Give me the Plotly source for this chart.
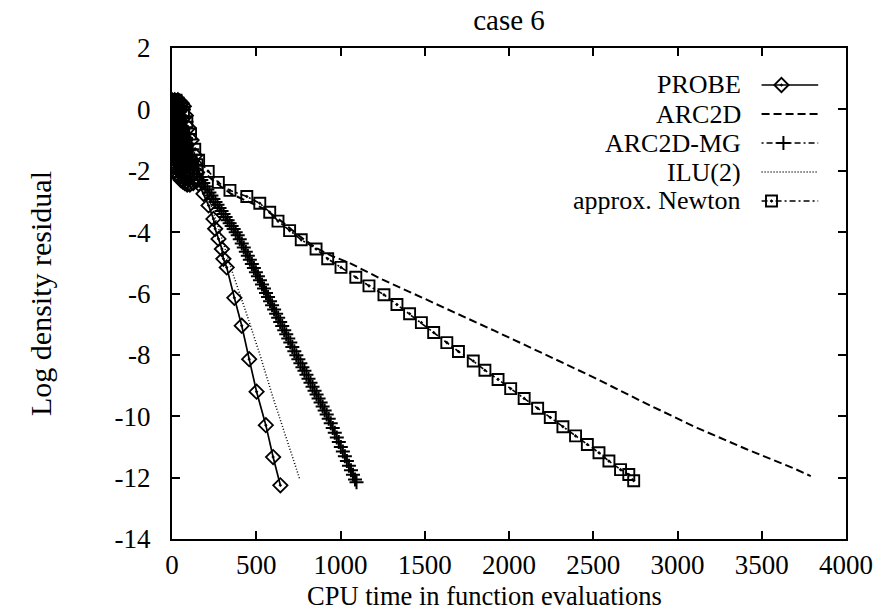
import plotly.graph_objects as go

# ---------------- data ----------------
probe_x = [0, 4, 8, 12, 16, 20, 25, 30, 35, 40, 46, 52, 58, 64, 70, 76, 82, 90, 98, 106, 116, 126, 138, 150,
           158, 187, 217, 246, 256, 276, 296, 305, 325, 370, 414, 458, 502, 557, 600, 643]
probe_y = [0.30, -1.80, 0.25, -2.00, 0.30, -2.10, 0.20, -2.15, 0.30, -2.20, 0.25, -2.30, 0.20, -2.35, 0.10, -2.40,
           -0.20, -2.45, -0.60, -2.45, -1.00, -2.40, -1.50, -2.30,
           -2.42, -2.75, -3.13, -3.57, -3.89, -4.22, -4.55, -4.87, -5.15, -6.14, -7.05, -8.14, -9.20, -10.29, -11.33, -12.25]

arc2d_x = [0, 7, 14, 21, 28, 35, 42, 50, 58, 66, 75, 85, 95, 105, 118, 130, 145, 160,
           250, 350, 450, 550, 650, 750, 850, 950, 1052, 1250, 1503, 1700, 1916, 2200, 2505, 2800, 3116, 3400, 3683, 3791]
arc2d_y = [0.30, -1.00, 0.25, -1.40, 0.20, -1.60, 0.25, -1.80, 0.10, -1.90, -0.10, -2.00, -0.50, -2.00, -0.90, -1.90, -1.50, -1.90,
           -2.35, -2.75, -3.00, -3.25, -3.65, -4.10, -4.50, -4.78, -5.00, -5.55, -6.18, -6.67, -7.22, -7.95, -8.74, -9.55, -10.38, -11.05, -11.68, -11.95]

mg_x = [0, 5, 10, 15, 20, 26, 32, 38, 44, 50, 57, 64, 71, 78, 86, 94, 102, 110, 120, 130, 140,
        150, 162, 174, 186, 198, 210, 222, 234, 246, 258, 270, 282, 294, 306, 318, 330, 342, 354, 366, 378, 390,
        402, 414, 426, 438, 450, 462, 474, 486, 498, 510, 522, 534, 546, 558,
        570, 582, 594, 606, 618, 630, 642, 654, 666, 678, 690, 702, 714, 726, 738,
        750, 762, 774, 786, 798, 810, 822, 834, 846, 858, 870, 882, 894, 906, 918,
        930, 942, 954, 966, 978, 990, 1002, 1014, 1026, 1038, 1050, 1062, 1074, 1086, 1095]
mg_y = [0.25, -1.50, 0.20, -1.90, 0.30, -2.00, 0.15, -2.10, 0.20, -2.20, 0.10, -2.30, 0.00, -2.35, -0.40, -2.40, -0.80, -2.30, -1.30, -2.20, -1.80,
        -2.10, -2.20, -2.30, -2.40, -2.51, -2.61, -2.71, -2.81, -2.92, -3.02, -3.11, -3.21, -3.31, -3.41, -3.51, -3.61, -3.71, -3.80, -3.90, -4.00, -4.10,
        -4.23, -4.37, -4.50, -4.64, -4.77, -4.90, -5.04, -5.17, -5.31, -5.44, -5.57, -5.71, -5.84, -5.98,
        -6.11, -6.25, -6.38, -6.52, -6.66, -6.79, -6.93, -7.06, -7.20, -7.33, -7.47, -7.60, -7.74, -7.88, -8.01,
        -8.14, -8.27, -8.40, -8.52, -8.65, -8.78, -8.91, -9.04, -9.17, -9.29, -9.42, -9.55, -9.68, -9.81, -9.94,
        -10.08, -10.23, -10.38, -10.54, -10.69, -10.84, -11.00, -11.15, -11.30, -11.46, -11.61, -11.76, -11.91, -12.06, -12.15]

ilu_x = [0, 8, 16, 24, 32, 40, 50, 60, 70, 80, 92, 104, 118, 130, 180, 230, 290, 355, 443, 521, 600, 679, 757]
ilu_y = [0.20, -1.30, 0.10, -1.70, 0.20, -2.00, 0.00, -2.10, -0.30, -2.20, -0.80, -2.20, -1.40, -1.90,
         -2.40, -3.10, -4.10, -5.25, -6.67, -7.98, -9.40, -10.70, -12.03]

newton_x = [0, 6, 12, 18, 24, 30, 37, 44, 52, 60, 68, 78, 88, 98, 110, 122, 135, 148,
            158, 215, 275, 344, 444, 521, 580, 629, 698, 767, 855, 924, 1003, 1091, 1169, 1258, 1335, 1410, 1480,
            1553, 1631, 1700, 1788, 1857, 1935, 2010, 2090, 2170, 2245, 2320, 2395, 2465, 2534, 2593, 2662, 2711, 2740]
newton_y = [0.30, -0.80, 0.20, -1.20, 0.30, -1.50, 0.20, -1.70, 0.10, -1.90, -0.10, -2.00, -0.40, -2.00, -0.80, -1.90, -1.30, -1.80,
            -1.66, -2.02, -2.38, -2.64, -2.84, -3.06, -3.35, -3.64, -3.95, -4.25, -4.55, -4.87, -5.15, -5.47, -5.75, -6.04, -6.36, -6.66, -6.95,
            -7.27, -7.60, -7.89, -8.20, -8.50, -8.80, -9.10, -9.42, -9.74, -10.04, -10.34, -10.64, -10.92, -11.19, -11.46, -11.74, -11.90, -12.10]

x_ticks = [0, 500, 1000, 1500, 2000, 2500, 3000, 3500, 4000]
x_ticktext = ["0", "500", "1000", "1500", "2000", "2500", "3000", "3500", "4000"]
y_ticks = [2, 0, -2, -4, -6, -8, -10, -12, -14]
y_ticktext = ["2", "0", "-2", "-4", "-6", "-8", "-10", "-12", "-14"]

legend_names = ["PROBE", "ARC2D", "ARC2D-MG", "ILU(2)", "approx. Newton"]

# ---------------- styles ----------------
FONT = "Liberation Serif"
FS_TICK = 27
FS_LEG = 26
FS_XTITLE = 26.5
FS_YTITLE = 30
styles = {
    "PROBE": dict(line=dict(color="black", width=1.7),
                  marker=dict(symbol="diamond-open-dot", size=11, color="black", line=dict(width=1.8, color="black")),
                  mode="lines+markers"),
    "ARC2D": dict(line=dict(color="black", width=2, dash="8px,4px"), mode="lines"),
    "ARC2D-MG": dict(line=dict(color="black", width=1.5, dash="2px,3px,6px,3px"),
                     marker=dict(symbol="cross-thin-open", size=10, color="black", line=dict(width=2, color="black")),
                     mode="lines+markers"),
    "ILU(2)": dict(line=dict(color="black", width=1.5, dash="1px,2px"), mode="lines"),
    "approx. Newton": dict(line=dict(color="black", width=1.6, dash="6px,3px,2px,3px"),
                           marker=dict(symbol="square-open-dot", size=11, color="black", line=dict(width=1.9, color="black")),
                           mode="lines+markers"),
}
series = {
    "PROBE": (probe_x, probe_y),
    "ARC2D": (arc2d_x, arc2d_y),
    "ARC2D-MG": (mg_x, mg_y),
    "ILU(2)": (ilu_x, ilu_y),
    "approx. Newton": (newton_x, newton_y),
}

fig = go.Figure()
for name in ["ARC2D", "ILU(2)", "approx. Newton", "ARC2D-MG", "PROBE"]:
    xs, ys = series[name]
    st = styles[name]
    kw = dict(x=xs, y=ys, name=name, mode=st["mode"], line=st["line"], showlegend=False)
    if "marker" in st:
        kw["marker"] = st["marker"]
    fig.add_trace(go.Scatter(**kw))

# ---------------- manual legend (text left, sample right) ----------------
L, R, T, B = 171.5, 850.0, 48.0, 539.0
W, H = 885, 611
def px2paper_x(px):
    return (px - L) / (R - L)
def px2paper_y(py):
    return (B - py) / (B - T)

row_py = [85, 114, 143, 172, 201]
sample_x0, sample_x1 = px2paper_x(765), px2paper_x(822)
marker_px = {"PROBE": 785, "ARC2D-MG": 787, "approx. Newton": 775}
annotations = []
for name, py in zip(legend_names, row_py):
    yy = px2paper_y(py)
    annotations.append(dict(x=px2paper_x(746), y=yy, xref="paper", yref="paper", text=name,
                            showarrow=False, xanchor="right", yanchor="middle",
                            font=dict(family=FONT, size=FS_LEG, color="black")))
    st = styles[name]
    fig.add_trace(go.Scatter(x=[sample_x0, sample_x1], y=[yy, yy], mode="lines", line=st["line"],
                             xaxis="x2", yaxis="y2", showlegend=False, hoverinfo="skip"))
    if "marker" in st:
        fig.add_trace(go.Scatter(x=[px2paper_x(marker_px[name])], y=[yy], mode="markers", marker=st["marker"],
                                 xaxis="x2", yaxis="y2", showlegend=False, hoverinfo="skip"))

# x-axis title (centred slightly left of the plot centre, as in the reference)
annotations.append(dict(x=px2paper_x(486), y=px2paper_y(596), xref="paper", yref="paper",
                        text="CPU time in function evaluations", showarrow=False,
                        xanchor="center", yanchor="middle",
                        font=dict(family=FONT, size=FS_XTITLE, color="black")))

axis_common = dict(showline=True, linecolor="black", linewidth=2.2, mirror="ticks", ticks="inside",
                   ticklen=8, tickwidth=1.6, tickcolor="black", showgrid=False, zeroline=False,
                   tickfont=dict(family=FONT, size=FS_TICK, color="black"))

fig.update_layout(
    width=W, height=H,
    margin=dict(l=L, r=W - R, t=T, b=H - B, pad=0),
    paper_bgcolor="white", plot_bgcolor="white",
    title=dict(text="case 6", x=0.5, xref="paper", y=1 - 20 / H, yref="container", yanchor="middle",
               xanchor="center", font=dict(family=FONT, size=29, color="black")),
    xaxis=dict(range=[0, 4000], tickvals=x_ticks, ticktext=x_ticktext, ticklabelstandoff=0, **axis_common),
    yaxis=dict(range=[-14, 2], tickvals=y_ticks, ticktext=y_ticktext, ticklabelstandoff=14,
               title=dict(text="Log density residual", standoff=54,
                          font=dict(family=FONT, size=FS_YTITLE, color="black")), **axis_common),
    xaxis2=dict(range=[0, 1], overlaying="x", visible=False, fixedrange=True),
    yaxis2=dict(range=[0, 1], overlaying="y", visible=False, fixedrange=True),
    annotations=annotations,
    showlegend=False,
)

fig.write_html("out.html")
